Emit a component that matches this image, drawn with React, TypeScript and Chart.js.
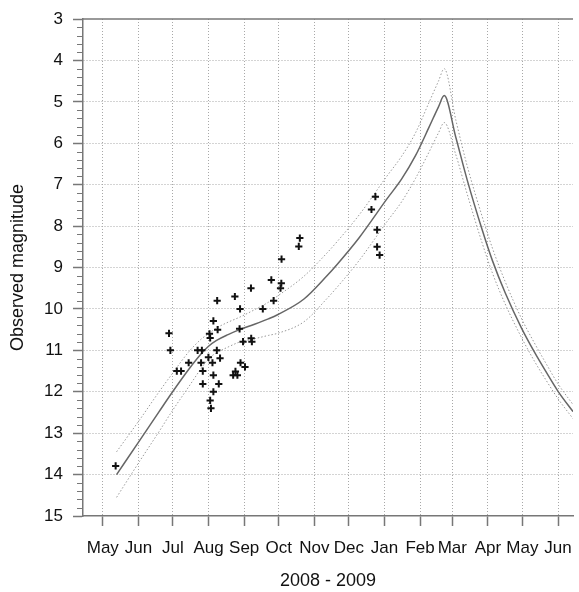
import React, { useEffect, useRef } from "react";
import { Chart, registerables } from "chart.js";

Chart.register(...registerables);

// x values: days since 1 May 2008
const MONTH_DAYS = [0, 31, 61, 92, 123, 153, 184, 214, 245, 276, 304, 335, 365, 396];
const MONTH_LABELS = ["May", "Jun", "Jul", "Aug", "Sep", "Oct", "Nov", "Dec", "Jan", "Feb", "Mar", "Apr", "May", "Jun"];

const X_MIN = -17.2;
const X_MAX = 409;
const Y_MIN = 3;
const Y_MAX = 15;

const CURVE_DAYS = [12, 32, 49, 60, 75, 86, 92, 99, 109, 119, 132, 144, 152, 175, 195, 204, 223, 247, 260, 272, 284, 292, 297, 307, 317, 330, 339, 350, 364, 375, 386, 396, 409];
const CURVE_MAIN = [14.0, 13.18, 12.48, 12.03, 11.45, 11.07, 10.9, 10.76, 10.62, 10.5, 10.37, 10.24, 10.14, 9.76, 9.2, 8.92, 8.28, 7.35, 6.86, 6.3, 5.6, 5.12, 4.85, 5.85, 6.89, 8.09, 8.84, 9.61, 10.45, 11.02, 11.54, 11.99, 12.48];
const CURVE_UPPER = [13.45, 12.68, 12.0, 11.58, 11.03, 10.72, 10.6, 10.46, 10.32, 10.2, 10.02, 9.84, 9.69, 9.21, 8.65, 8.37, 7.73, 6.8, 6.31, 5.75, 5.0, 4.5, 4.2, 5.43, 6.55, 7.77, 8.54, 9.34, 10.22, 10.8, 11.34, 11.81, 12.31];
const CURVE_LOWER = [14.55, 13.68, 12.96, 12.48, 11.87, 11.42, 11.2, 11.06, 10.92, 10.8, 10.72, 10.64, 10.59, 10.31, 9.75, 9.47, 8.83, 7.9, 7.41, 6.85, 6.2, 5.75, 5.5, 6.27, 7.23, 8.41, 9.14, 9.88, 10.68, 11.24, 11.74, 12.17, 12.65];

const OBS_DAYS = [11.2, 57.6, 58.8, 64.4, 68.1, 74.7, 82.5, 86.2, 85.5, 87.0, 87.0, 91.9, 92.8, 93.4, 95.4, 96.2, 99.9, 99.2, 102.0, 96.2, 96.2, 93.4, 94.1, 100.9, 99.5, 114.9, 119.4, 119.0, 122.0, 129.1, 129.7, 128.9, 139.2, 119.8, 123.7, 113.4, 117.1, 115.4, 148.6, 146.6, 155.3, 154.6, 155.5, 170.5, 171.4, 237.1, 233.7, 238.6, 238.6, 240.8];
const OBS_MAGS = [13.79, 10.59, 11.0, 11.5, 11.5, 11.3, 11.0, 11.0, 11.3, 11.5, 11.81, 11.17, 10.6, 10.7, 11.3, 10.29, 10.5, 11.0, 11.19, 11.6, 12.0, 12.21, 12.4, 11.81, 9.8, 9.7, 10.0, 10.48, 10.79, 10.71, 10.79, 9.5, 10.0, 11.3, 11.4, 11.6, 11.6, 11.51, 9.8, 9.3, 9.38, 9.5, 8.8, 8.49, 8.29, 7.29, 7.6, 8.09, 8.5, 8.7];

const X_TITLE = "2008 - 2009";
const Y_TITLE = "Observed magnitude";

const FONT = "'Liberation Sans', Arial, sans-serif";
const AXIS_COLOR = "#777";
const GRID_COLOR = "#a8a8a8";

const toPts = (xs: number[], ys: number[]) => xs.map((x, i) => ({ x, y: ys[i] }));

const framePlugin = {
  id: "frame",
  afterDraw(chart: any) {
    const { ctx, chartArea } = chart;
    const y = chart.scales.y;
    ctx.save();
    ctx.strokeStyle = AXIS_COLOR;
    ctx.lineWidth = 1.5;
    ctx.beginPath();
    ctx.moveTo(chartArea.left, chartArea.top);
    ctx.lineTo(chartArea.right, chartArea.top);
    ctx.stroke();
    ctx.lineWidth = 1;
    ctx.beginPath();
    for (let i = 0; i <= (Y_MAX - Y_MIN) * 5; i++) {
      if (i % 5 === 0) continue;
      const v = Y_MIN + i * 0.2;
      const py = Math.round(y.getPixelForValue(v)) + 0.5;
      ctx.moveTo(chartArea.left - 6, py);
      ctx.lineTo(chartArea.left, py);
    }
    ctx.stroke();
    ctx.restore();
  },
};

export default function App() {
  const ref = useRef<HTMLCanvasElement>(null);
  useEffect(() => {
    if (!ref.current) return;
    const chart = new Chart(ref.current, {
      type: "scatter",
      data: {
        datasets: [
          {
            label: "Observations",
            data: toPts(OBS_DAYS, OBS_MAGS),
            pointStyle: "cross",
            pointRadius: 3.6,
            borderWidth: 2,
            borderColor: "#111",
            backgroundColor: "#111",
            showLine: false,
          },
          {
            label: "Model",
            data: toPts(CURVE_DAYS, CURVE_MAIN),
            showLine: true,
            pointRadius: 0,
            borderColor: "#666",
            borderWidth: 1.5,
            cubicInterpolationMode: "monotone",
          },
          {
            label: "Upper",
            data: toPts(CURVE_DAYS, CURVE_UPPER),
            showLine: true,
            pointRadius: 0,
            borderColor: "#999",
            borderWidth: 1,
            borderDash: [1.5, 2],
            cubicInterpolationMode: "monotone",
          },
          {
            label: "Lower",
            data: toPts(CURVE_DAYS, CURVE_LOWER),
            showLine: true,
            pointRadius: 0,
            borderColor: "#999",
            borderWidth: 1,
            borderDash: [1.5, 2],
            cubicInterpolationMode: "monotone",
          },
        ],
      },
      options: {
        animation: false,
        responsive: false,
        maintainAspectRatio: false,
        layout: { padding: { top: 19, right: 0, bottom: 0, left: 0 } },
        plugins: { legend: { display: false }, tooltip: { enabled: false } },
        scales: {
          x: {
            type: "linear",
            min: X_MIN,
            max: X_MAX,
            afterBuildTicks: (scale: any) => {
              scale.ticks = MONTH_DAYS.map((v) => ({ value: v }));
            },
            afterFit: (scale: any) => {
              scale.height = 76;
              scale.paddingLeft = 0;
              scale.paddingRight = 0;
            },
            ticks: {
              autoSkip: false,
              maxRotation: 0,
              minRotation: 0,
              padding: 12,
              color: "#111",
              font: { family: FONT, size: 17 },
              callback: (_v: any, i: number) => MONTH_LABELS[i],
            },
            grid: {
              color: GRID_COLOR,
              lineWidth: 1,
              tickLength: 10,
              tickColor: AXIS_COLOR,
              tickWidth: 1.5,
            },
            border: { display: true, color: AXIS_COLOR, width: 1.5, dash: [1, 2] },
            title: {
              display: true,
              text: X_TITLE,
              color: "#111",
              font: { family: FONT, size: 18 },
              padding: { top: 0, bottom: 0 },
            },
          },
          y: {
            type: "linear",
            min: Y_MIN,
            max: Y_MAX,
            reverse: true,
            afterFit: (scale: any) => {
              scale.width = 83;
              scale.paddingTop = 0;
              scale.paddingBottom = 0;
            },
            ticks: {
              stepSize: 1,
              padding: 10,
              color: "#111",
              font: { family: FONT, size: 17 },
            },
            grid: {
              color: (ctx: any) =>
                ctx.tick && (ctx.tick.value === Y_MIN || ctx.tick.value === Y_MAX) ? "rgba(0,0,0,0)" : GRID_COLOR,
              lineWidth: 1,
              tickLength: 10,
              tickColor: AXIS_COLOR,
              tickWidth: 1.5,
            },
            border: { display: true, color: AXIS_COLOR, width: 1.5, dash: [1, 2] },
            title: {
              display: true,
              text: Y_TITLE,
              color: "#111",
              font: { family: FONT, size: 18 },
              padding: { top: 7, bottom: 0 },
            },
          },
        },
      },
      plugins: [framePlugin],
    } as any);
    return () => chart.destroy();
  }, []);

  return (
    <div style={{ position: "absolute", left: 0, top: 0, width: 579, height: 592, background: "#fff" }}>
      <canvas ref={ref} width={579} height={592} style={{ width: 579, height: 592, display: "block" }} />
    </div>
  );
}
